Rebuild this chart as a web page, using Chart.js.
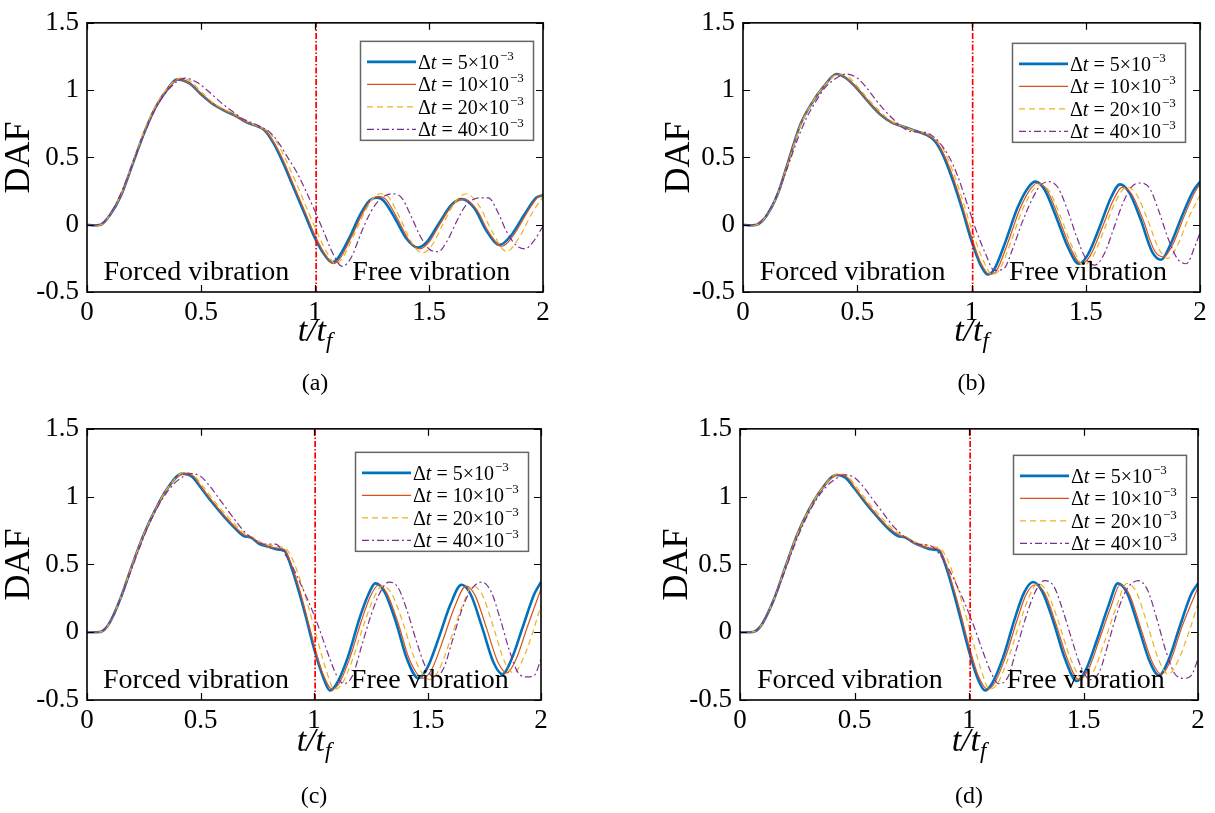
<!DOCTYPE html>
<html>
<head>
<meta charset="utf-8">
<script src="https://cdn.jsdelivr.net/npm/chart.js@4.4.1/dist/chart.umd.min.js"></script>
<style>
  html, body { margin: 0; padding: 0; background: #fff; }
  #wrap { position: relative; width: 1215px; height: 813px; overflow: hidden; }
  canvas { position: absolute; }
</style>
</head>
<body>
<div id="wrap">
  <canvas id="pa"></canvas>
  <canvas id="pb"></canvas>
  <canvas id="pc"></canvas>
  <canvas id="pd"></canvas>
</div>
<script>
// DAF vs t/t_f for four cases, time steps 5, 10, 20, 40 (x10^-3).
// Values at the curve's turning points.

const X_TICKS = [0, 0.5, 1, 1.5, 2];
const X_TICK_LABELS = ['0', '0.5', '1', '1.5', '2'];
const Y_TICKS = [-0.5, 0, 0.5, 1, 1.5];
const Y_TICK_LABELS = ['-0.5', '0', '0.5', '1', '1.5'];
const DT_MANTISSA = ['5', '10', '20', '40'];
const DT_EXP = '\u22123';
const NOTES = ['Forced vibration', 'Free vibration'];
const PANEL_LABELS = ['(a)', '(b)', '(c)', '(d)'];
const SPLIT_T = 1.005;

// (a)
const A_T5  = [0,0.03,0.06,0.1,0.15,0.2,0.25,0.3,0.35,0.395,0.45,0.5,0.55,0.6,0.65,0.7,0.75,0.78,0.82,0.86,0.9,0.95,1.0,1.04,1.075,1.1,1.15,1.2,1.24,1.27,1.3,1.35,1.4,1.45,1.49,1.54,1.6,1.645,1.7,1.75,1.81,1.86,1.92,1.97,2.0];
const A_Y5  = [0,-0.005,0,0.07,0.22,0.45,0.68,0.87,1.0,1.08,1.05,0.97,0.9,0.85,0.81,0.76,0.73,0.70,0.60,0.46,0.30,0.10,-0.10,-0.22,-0.28,-0.25,-0.10,0.08,0.18,0.20,0.18,0.05,-0.10,-0.17,-0.13,0.0,0.15,0.19,0.12,-0.04,-0.15,-0.08,0.08,0.20,0.22];
const A_T10 = [0,0.03,0.06,0.1,0.15,0.2,0.25,0.3,0.35,0.4,0.45,0.5,0.55,0.6,0.65,0.7,0.75,0.78,0.82,0.86,0.9,0.95,1.0,1.04,1.08,1.11,1.16,1.21,1.25,1.28,1.31,1.36,1.41,1.46,1.5,1.55,1.61,1.655,1.71,1.76,1.82,1.87,1.93,1.98,2.0];
const A_Y10 = [0,-0.005,0,0.07,0.22,0.45,0.68,0.87,1.0,1.08,1.05,0.97,0.9,0.85,0.81,0.76,0.73,0.70,0.61,0.48,0.32,0.12,-0.08,-0.21,-0.29,-0.25,-0.09,0.09,0.19,0.21,0.19,0.05,-0.11,-0.18,-0.13,0.01,0.16,0.19,0.11,-0.05,-0.16,-0.08,0.09,0.21,0.22];
const A_T20 = [0,0.03,0.06,0.1,0.15,0.2,0.25,0.3,0.35,0.41,0.46,0.5,0.55,0.6,0.65,0.7,0.75,0.79,0.83,0.87,0.91,0.96,1.0,1.05,1.09,1.12,1.17,1.22,1.26,1.29,1.32,1.37,1.42,1.47,1.51,1.56,1.62,1.665,1.72,1.78,1.84,1.89,1.95,2.0];
const A_Y20 = [0,-0.005,0,0.07,0.23,0.46,0.69,0.88,1.01,1.09,1.06,0.99,0.91,0.86,0.82,0.77,0.73,0.70,0.62,0.49,0.34,0.14,-0.02,-0.2,-0.29,-0.25,-0.08,0.1,0.21,0.23,0.21,0.06,-0.12,-0.21,-0.16,0.0,0.18,0.23,0.14,-0.06,-0.2,-0.11,0.08,0.21];
const A_T40 = [0,0.04,0.08,0.12,0.16,0.2,0.24,0.28,0.32,0.36,0.43,0.48,0.52,0.56,0.6,0.64,0.68,0.72,0.76,0.8,0.84,0.88,0.92,0.96,1.0,1.04,1.08,1.12,1.16,1.2,1.24,1.28,1.34,1.38,1.42,1.46,1.5,1.54,1.58,1.62,1.66,1.72,1.76,1.8,1.84,1.88,1.92,1.96,2.0];
const A_Y40 = [0,0,0.03,0.13,0.28,0.45,0.63,0.79,0.92,1.01,1.09,1.06,1.01,0.95,0.89,0.84,0.79,0.76,0.73,0.69,0.61,0.50,0.39,0.25,0.1,-0.06,-0.22,-0.31,-0.24,-0.07,0.08,0.18,0.23,0.2,0.07,-0.08,-0.18,-0.2,-0.12,0.02,0.14,0.2,0.2,0.1,-0.05,-0.15,-0.18,-0.12,-0.01];

// (b)
const B_T5  = [0,0.03,0.06,0.1,0.15,0.2,0.25,0.3,0.35,0.41,0.45,0.5,0.55,0.6,0.65,0.7,0.75,0.8,0.84,0.88,0.92,0.96,1.0,1.04,1.07,1.1,1.15,1.2,1.25,1.28,1.32,1.37,1.42,1.47,1.51,1.56,1.61,1.65,1.69,1.74,1.79,1.83,1.87,1.92,1.97,2.0];
const B_Y5  = [0,-0.005,0,0.06,0.22,0.48,0.74,0.9,1.02,1.12,1.09,1.01,0.91,0.82,0.76,0.73,0.70,0.67,0.62,0.50,0.32,0.11,-0.12,-0.30,-0.37,-0.33,-0.12,0.12,0.28,0.32,0.26,0.06,-0.16,-0.29,-0.22,-0.02,0.2,0.30,0.24,0.04,-0.2,-0.26,-0.15,0.06,0.25,0.32];
const B_T10 = [0,0.03,0.06,0.1,0.15,0.2,0.25,0.3,0.35,0.41,0.45,0.5,0.55,0.6,0.65,0.7,0.75,0.8,0.84,0.88,0.92,0.96,1.0,1.04,1.08,1.11,1.16,1.21,1.26,1.29,1.33,1.38,1.43,1.48,1.52,1.57,1.62,1.66,1.7,1.75,1.8,1.84,1.88,1.93,1.98,2.0];
const B_Y10 = [0,-0.005,0,0.06,0.22,0.48,0.74,0.9,1.02,1.12,1.09,1.01,0.91,0.82,0.76,0.73,0.70,0.67,0.63,0.52,0.35,0.14,-0.09,-0.28,-0.37,-0.34,-0.13,0.11,0.27,0.31,0.26,0.06,-0.16,-0.29,-0.23,-0.03,0.18,0.28,0.23,0.04,-0.19,-0.24,-0.15,0.06,0.25,0.3];
const B_T20 = [0,0.03,0.06,0.1,0.15,0.2,0.25,0.3,0.35,0.42,0.46,0.5,0.55,0.6,0.65,0.7,0.75,0.8,0.84,0.88,0.92,0.96,1.0,1.05,1.09,1.12,1.17,1.22,1.27,1.3,1.34,1.39,1.44,1.49,1.53,1.58,1.63,1.68,1.72,1.77,1.82,1.86,1.9,1.95,2.0];
const B_Y20 = [0,-0.005,0,0.06,0.22,0.47,0.73,0.9,1.02,1.12,1.1,1.03,0.93,0.84,0.77,0.73,0.70,0.68,0.64,0.55,0.39,0.19,-0.03,-0.26,-0.37,-0.34,-0.14,0.1,0.26,0.30,0.25,0.06,-0.16,-0.30,-0.24,-0.04,0.17,0.28,0.23,0.04,-0.18,-0.25,-0.16,0.05,0.22];
const B_T40 = [0,0.04,0.08,0.12,0.16,0.2,0.24,0.28,0.32,0.36,0.4,0.45,0.5,0.54,0.58,0.62,0.66,0.7,0.74,0.78,0.82,0.86,0.9,0.94,0.98,1.02,1.06,1.1,1.14,1.18,1.22,1.26,1.3,1.34,1.38,1.42,1.46,1.5,1.54,1.58,1.62,1.66,1.7,1.74,1.78,1.82,1.86,1.9,1.94,1.98,2.0];
const B_Y40 = [0,0,0.03,0.12,0.27,0.45,0.64,0.8,0.92,1.02,1.08,1.12,1.09,1.02,0.93,0.85,0.78,0.72,0.69,0.69,0.67,0.61,0.51,0.36,0.16,-0.04,-0.21,-0.34,-0.33,-0.18,0.01,0.17,0.29,0.32,0.27,0.11,-0.09,-0.25,-0.30,-0.22,-0.04,0.15,0.28,0.31,0.27,0.1,-0.1,-0.25,-0.29,-0.15,-0.06];

// (c)
const C_T5  = [0,0.04,0.07,0.1,0.15,0.2,0.25,0.3,0.35,0.42,0.46,0.5,0.55,0.6,0.65,0.69,0.72,0.76,0.8,0.84,0.87,0.9,0.93,0.96,1.0,1.04,1.07,1.1,1.15,1.2,1.24,1.27,1.31,1.36,1.41,1.46,1.5,1.55,1.6,1.65,1.69,1.74,1.79,1.83,1.87,1.92,1.97,2.0];
const C_Y5  = [0,0,0.01,0.07,0.26,0.5,0.72,0.9,1.05,1.17,1.15,1.07,0.96,0.86,0.77,0.71,0.70,0.65,0.63,0.61,0.60,0.48,0.32,0.14,-0.12,-0.33,-0.43,-0.38,-0.18,0.1,0.28,0.36,0.3,0.08,-0.2,-0.34,-0.26,-0.04,0.2,0.35,0.28,0.04,-0.22,-0.31,-0.2,0.04,0.28,0.37];
const C_T10 = [0,0.04,0.07,0.1,0.15,0.2,0.25,0.3,0.35,0.43,0.47,0.5,0.55,0.6,0.65,0.69,0.72,0.76,0.8,0.84,0.87,0.9,0.93,0.96,1.0,1.04,1.08,1.11,1.16,1.21,1.25,1.285,1.32,1.37,1.42,1.48,1.52,1.57,1.62,1.67,1.71,1.76,1.81,1.85,1.89,1.94,2.0];
const C_Y10 = [0,0,0.01,0.07,0.26,0.5,0.72,0.9,1.05,1.17,1.15,1.08,0.97,0.87,0.78,0.72,0.70,0.66,0.63,0.62,0.61,0.5,0.35,0.17,-0.09,-0.31,-0.42,-0.38,-0.18,0.09,0.27,0.35,0.29,0.07,-0.2,-0.34,-0.27,-0.05,0.19,0.34,0.27,0.03,-0.22,-0.3,-0.2,0.04,0.32];
const C_T20 = [0,0.04,0.07,0.1,0.15,0.2,0.25,0.3,0.35,0.43,0.47,0.5,0.55,0.6,0.65,0.7,0.73,0.77,0.81,0.85,0.88,0.91,0.94,0.97,1.0,1.05,1.09,1.12,1.17,1.22,1.26,1.3,1.34,1.39,1.44,1.51,1.55,1.6,1.65,1.7,1.74,1.79,1.84,1.88,1.92,1.96,2.0];
const C_Y20 = [0,0,0.01,0.07,0.26,0.5,0.72,0.9,1.05,1.18,1.16,1.1,0.99,0.89,0.8,0.72,0.70,0.66,0.64,0.63,0.61,0.52,0.38,0.22,0.04,-0.26,-0.42,-0.39,-0.2,0.06,0.24,0.34,0.29,0.08,-0.18,-0.35,-0.28,-0.06,0.18,0.34,0.28,0.04,-0.22,-0.3,-0.2,-0.02,0.2];
const C_T40 = [0,0.04,0.08,0.12,0.16,0.2,0.24,0.28,0.32,0.36,0.4,0.46,0.5,0.54,0.58,0.62,0.66,0.7,0.74,0.78,0.83,0.87,0.9,0.94,0.98,1.02,1.06,1.1,1.13,1.17,1.21,1.25,1.29,1.33,1.37,1.41,1.45,1.49,1.53,1.57,1.61,1.65,1.69,1.74,1.78,1.82,1.86,1.9,1.94,1.97,2.0];
const C_Y40 = [0,0,0.03,0.14,0.3,0.48,0.66,0.82,0.95,1.05,1.12,1.17,1.15,1.08,0.99,0.9,0.81,0.73,0.68,0.65,0.65,0.58,0.5,0.36,0.21,0.04,-0.15,-0.32,-0.38,-0.32,-0.1,0.12,0.29,0.37,0.33,0.16,-0.06,-0.25,-0.33,-0.27,-0.06,0.16,0.31,0.37,0.3,0.1,-0.13,-0.3,-0.33,-0.32,-0.2];

// (d)
const D_T5  = [0,0.04,0.07,0.1,0.15,0.2,0.25,0.3,0.35,0.42,0.46,0.5,0.55,0.6,0.65,0.69,0.72,0.76,0.8,0.84,0.87,0.9,0.93,0.96,1.0,1.04,1.07,1.1,1.15,1.2,1.24,1.28,1.32,1.37,1.42,1.47,1.51,1.56,1.61,1.65,1.69,1.74,1.79,1.83,1.87,1.92,1.97,2.0];
const D_Y5  = [0,0,0.01,0.07,0.25,0.49,0.72,0.9,1.04,1.16,1.14,1.06,0.95,0.85,0.76,0.71,0.70,0.66,0.63,0.61,0.6,0.48,0.31,0.12,-0.14,-0.35,-0.43,-0.38,-0.18,0.1,0.29,0.37,0.3,0.07,-0.2,-0.36,-0.28,-0.05,0.2,0.36,0.29,0.04,-0.22,-0.32,-0.21,0.04,0.28,0.36];
const D_T10 = [0,0.04,0.07,0.1,0.15,0.2,0.25,0.3,0.35,0.43,0.47,0.5,0.55,0.6,0.65,0.69,0.72,0.76,0.8,0.84,0.87,0.9,0.93,0.96,1.0,1.04,1.08,1.11,1.16,1.21,1.25,1.29,1.33,1.38,1.43,1.48,1.52,1.57,1.62,1.66,1.7,1.75,1.8,1.84,1.88,1.93,2.0];
const D_Y10 = [0,0,0.01,0.07,0.25,0.49,0.72,0.9,1.04,1.16,1.14,1.07,0.96,0.86,0.77,0.72,0.70,0.66,0.63,0.62,0.61,0.5,0.34,0.16,-0.1,-0.32,-0.42,-0.38,-0.18,0.09,0.28,0.35,0.29,0.06,-0.2,-0.35,-0.28,-0.05,0.19,0.35,0.28,0.03,-0.22,-0.31,-0.21,0.04,0.33];
const D_T20 = [0,0.04,0.07,0.1,0.15,0.2,0.25,0.3,0.35,0.43,0.47,0.5,0.55,0.6,0.65,0.7,0.73,0.77,0.81,0.85,0.88,0.91,0.94,0.97,1.0,1.05,1.09,1.12,1.17,1.22,1.26,1.3,1.34,1.39,1.44,1.5,1.54,1.59,1.64,1.69,1.73,1.78,1.83,1.87,1.91,1.96,2.0];
const D_Y20 = [0,0,0.01,0.07,0.25,0.49,0.72,0.9,1.04,1.17,1.15,1.09,0.98,0.88,0.79,0.72,0.70,0.66,0.64,0.63,0.61,0.52,0.38,0.22,0.04,-0.26,-0.42,-0.39,-0.2,0.06,0.25,0.36,0.3,0.08,-0.18,-0.35,-0.3,-0.08,0.17,0.36,0.3,0.05,-0.21,-0.31,-0.22,0.0,0.21];
const D_T40 = [0,0.04,0.08,0.12,0.16,0.2,0.24,0.28,0.32,0.36,0.4,0.46,0.5,0.54,0.58,0.62,0.66,0.7,0.74,0.78,0.83,0.87,0.9,0.94,0.98,1.02,1.06,1.1,1.13,1.17,1.21,1.25,1.29,1.33,1.37,1.41,1.45,1.49,1.53,1.57,1.61,1.65,1.69,1.74,1.78,1.82,1.86,1.9,1.94,1.97,2.0];
const D_Y40 = [0,0,0.03,0.13,0.29,0.47,0.65,0.81,0.94,1.04,1.11,1.16,1.14,1.07,0.98,0.89,0.8,0.73,0.68,0.65,0.64,0.58,0.5,0.37,0.22,0.05,-0.14,-0.31,-0.38,-0.33,-0.11,0.12,0.3,0.38,0.34,0.16,-0.06,-0.26,-0.35,-0.29,-0.07,0.16,0.32,0.38,0.31,0.1,-0.14,-0.31,-0.34,-0.32,-0.2];

const SERIF = '"Liberation Serif", "Times New Roman", serif';
const STYLES = [
  { color: '#0072BD', width: 2.6, dash: [] },
  { color: '#D95319', width: 1.2, dash: [] },
  { color: '#EDB120', width: 1.2, dash: [6, 4] },
  { color: '#7E2F8E', width: 1.2, dash: [7, 3, 2, 3] },
];

const PANELS = [
  { id: 'pa', canvas: { x: 0,   y: 0,   w: 607, h: 406 }, plot: { L: 87,  R: 543,  T: 15,  B: 292 }, dafX: 20,
    leg: { dr: 10, dt: 18 }, titleDy: 38, labelDy: 92,
    series: [[A_T5, A_Y5], [A_T10, A_Y10], [A_T20, A_Y20], [A_T40, A_Y40]] },
  { id: 'pb', canvas: { x: 607, y: 0,   w: 608, h: 406 }, plot: { L: 743, R: 1200, T: 15,  B: 292 }, dafX: 680,
    leg: { dr: 15, dt: 20 }, titleDy: 38, labelDy: 92,
    series: [[B_T5, B_Y5], [B_T10, B_Y10], [B_T20, B_Y20], [B_T40, B_Y40]] },
  { id: 'pc', canvas: { x: 0,   y: 406, w: 607, h: 407 }, plot: { L: 87,  R: 541,  T: 422, B: 700 }, dafX: 20,
    leg: { dr: 13, dt: 23 }, titleDy: 40, labelDy: 97,
    series: [[C_T5, C_Y5], [C_T10, C_Y10], [C_T20, C_Y20], [C_T40, C_Y40]] },
  { id: 'pd', canvas: { x: 607, y: 406, w: 608, h: 407 }, plot: { L: 740, R: 1198, T: 422, B: 700 }, dafX: 678,
    leg: { dr: 12, dt: 26 }, titleDy: 40, labelDy: 97,
    series: [[D_T5, D_Y5], [D_T10, D_Y10], [D_T20, D_Y20], [D_T40, D_Y40]] },
];

function el(id) { return document.getElementById(id); }

// box round the axes with inward ticks on all four sides (MATLAB "box on")
const framePlugin = {
  id: 'frame',
  afterDatasetsDraw(chart) {
    const { ctx, chartArea: a, scales: { x, y } } = chart;
    ctx.save();
    ctx.strokeStyle = '#000';
    ctx.lineWidth = 1.6;
    ctx.strokeRect(a.left, a.top, a.right - a.left, a.bottom - a.top);
    ctx.lineWidth = 1.2;
    ctx.beginPath();
    X_TICKS.forEach(v => {
      const px = Math.round(x.getPixelForValue(v)) + 0.5;
      ctx.moveTo(px, a.bottom); ctx.lineTo(px, a.bottom - 7);
      ctx.moveTo(px, a.top); ctx.lineTo(px, a.top + 7);
    });
    Y_TICKS.forEach(v => {
      const py = Math.round(y.getPixelForValue(v)) + 0.5;
      ctx.moveTo(a.left, py); ctx.lineTo(a.left + 7, py);
      ctx.moveTo(a.right, py); ctx.lineTo(a.right - 7, py);
    });
    ctx.stroke();
    ctx.restore();
  }
};

// region notes, x-axis title t/t_f and the panel letter
const notesPlugin = {
  id: 'notes',
  afterDatasetsDraw(chart, args, opts) {
    const { ctx, chartArea: a, scales: { x, y } } = chart;
    ctx.save();
    ctx.fillStyle = '#000';
    ctx.textAlign = 'center';
    ctx.textBaseline = 'middle';
    ctx.font = `28px ${SERIF}`;
    ctx.fillText(NOTES[0], x.getPixelForValue(0.48), y.getPixelForValue(-0.355));
    ctx.fillText(NOTES[1], x.getPixelForValue(1.51), y.getPixelForValue(-0.355));

    // t/t_f
    const cx = (a.left + a.right) / 2, ty = a.bottom + opts.titleDy;
    ctx.textAlign = 'left';
    ctx.textBaseline = 'alphabetic';
    ctx.font = `italic 34px ${SERIF}`;
    const main = 't/t';
    const wMain = ctx.measureText(main).width;
    ctx.font = `italic 23px ${SERIF}`;
    const wSub = ctx.measureText('f').width;
    const x0 = cx - (wMain + wSub) / 2;
    ctx.font = `italic 34px ${SERIF}`;
    ctx.fillText(main, x0, ty + 11);
    ctx.font = `italic 23px ${SERIF}`;
    ctx.fillText('f', x0 + wMain, ty + 18);

    ctx.textAlign = 'center';
    ctx.textBaseline = 'middle';
    ctx.font = `24px ${SERIF}`;
    ctx.fillText(opts.label, cx, a.bottom + opts.labelDy);
    ctx.restore();
  }
};

// legend box inside the axes, upper right
const dtLegendPlugin = {
  id: 'dtLegend',
  afterDraw(chart, args, opts) {
    const { ctx, chartArea: a } = chart;
    const w = 173, h = 99;
    const left = a.right - opts.dr - w, top = a.top + opts.dt;
    ctx.save();
    ctx.fillStyle = '#fff';
    ctx.fillRect(left, top, w, h);
    ctx.strokeStyle = '#666';
    ctx.lineWidth = 1.5;
    ctx.strokeRect(left + 0.5, top + 0.5, w, h);
    chart.data.datasets.filter(d => d.mant).forEach((d, i) => {
      const ry = top + 21 + i * 22.5;
      ctx.strokeStyle = d.borderColor;
      ctx.lineWidth = d.borderWidth;
      ctx.setLineDash(d.borderDash || []);
      ctx.beginPath();
      ctx.moveTo(left + 7, ry); ctx.lineTo(left + 56, ry);
      ctx.stroke();
      ctx.setLineDash([]);
      ctx.fillStyle = '#000';
      ctx.textAlign = 'left';
      ctx.textBaseline = 'alphabetic';
      let tx = left + 58;
      const base = ry + 7;
      ctx.font = `20px ${SERIF}`;
      ctx.fillText('\u0394', tx, base); tx += ctx.measureText('\u0394').width;
      ctx.font = `italic 20px ${SERIF}`;
      ctx.fillText('t', tx, base); tx += ctx.measureText('t').width;
      ctx.font = `20px ${SERIF}`;
      const mid = ' = ' + d.mant + '\u00d710';
      ctx.fillText(mid, tx, base); tx += ctx.measureText(mid).width;
      ctx.font = `13px ${SERIF}`;
      ctx.fillText(DT_EXP, tx + 1, base - 9);
    });
    ctx.restore();
  }
};

function makePanel(p, idx) {
  const cv = el(p.id);
  cv.width = p.canvas.w; cv.height = p.canvas.h;
  cv.style.left = p.canvas.x + 'px'; cv.style.top = p.canvas.y + 'px';
  cv.style.width = p.canvas.w + 'px'; cv.style.height = p.canvas.h + 'px';

  const padLeft = p.dafX - p.canvas.x - 22;
  const yW = p.plot.L - p.canvas.x - padLeft;
  const xH = p.canvas.y + p.canvas.h - p.plot.B;

  const datasets = p.series.map(([ts, ys], i) => ({
    label: 'dt ' + DT_MANTISSA[i],
    mant: DT_MANTISSA[i],
    data: ts.map((t, k) => ({ x: t, y: ys[k] })),
    borderColor: STYLES[i].color,
    borderWidth: STYLES[i].width,
    borderDash: STYLES[i].dash,
    pointRadius: 0,
    fill: false,
    cubicInterpolationMode: 'monotone',
    order: 4 - i,
  }));
  datasets.push({
    label: 'split',
    data: [{ x: SPLIT_T, y: Y_TICKS[0] }, { x: SPLIT_T, y: Y_TICKS[Y_TICKS.length - 1] }],
    borderColor: '#ff0000', borderWidth: 1.7, borderDash: [6, 2, 1.5, 2],
    pointRadius: 0, fill: false, order: 0,
  });

  const tickFont = { family: SERIF, size: 27, lineHeight: 1.1 };
  new Chart(cv.getContext('2d'), {
    type: 'line',
    data: { datasets },
    options: {
      responsive: false, animation: false, events: [],
      layout: { padding: { left: padLeft, top: p.plot.T - p.canvas.y, right: p.canvas.x + p.canvas.w - p.plot.R, bottom: 0 } },
      plugins: {
        legend: { display: false }, tooltip: { enabled: false },
        notes: { titleDy: p.titleDy, labelDy: p.labelDy, label: PANEL_LABELS[idx] },
        dtLegend: p.leg,
      },
      scales: {
        x: {
          type: 'linear', min: X_TICKS[0], max: X_TICKS[X_TICKS.length - 1],
          afterBuildTicks: s => { s.ticks = X_TICKS.map(v => ({ value: v })); },
          afterFit: s => { s.height = xH; },
          grid: { display: false, drawTicks: false }, border: { display: false },
          ticks: { padding: 6, color: '#000', font: tickFont, maxRotation: 0, autoSkip: false,
                   callback: (v, i) => X_TICK_LABELS[i] },
        },
        y: {
          type: 'linear', min: Y_TICKS[0], max: Y_TICKS[Y_TICKS.length - 1],
          afterBuildTicks: s => { s.ticks = Y_TICKS.map(v => ({ value: v })); },
          afterFit: s => { s.width = yW; },
          grid: { display: false, drawTicks: false }, border: { display: false },
          ticks: { padding: 8, color: '#000', font: tickFont, autoSkip: false,
                   callback: (v, i) => Y_TICK_LABELS[i] },
          title: { display: true, text: 'DAF', color: '#000', font: { family: SERIF, size: 36, lineHeight: 1.2 }, padding: { top: 0, bottom: 0 } },
        },
      },
    },
    plugins: [framePlugin, notesPlugin, dtLegendPlugin],
  });
}

PANELS.forEach(makePanel);
</script>
</body>
</html>
